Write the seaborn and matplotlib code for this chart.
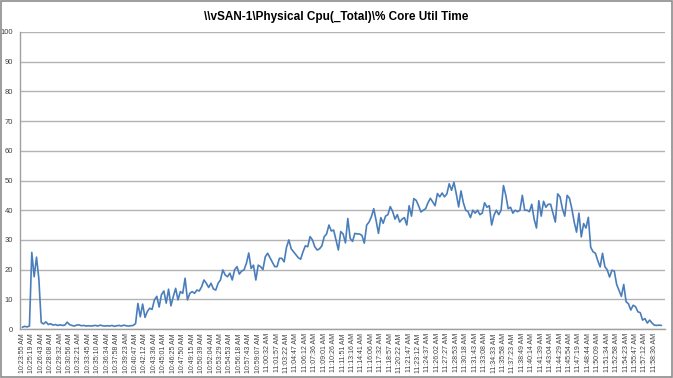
import numpy as np
import pandas as pd
import matplotlib
matplotlib.use('Agg')
import matplotlib.pyplot as plt
import seaborn as sns

title = '\\\\vSAN-1\\Physical Cpu(_Total)\\% Core Util Time'

# tick labels (every 4th sample)
time_labels = [
    '10:23:55 AM', '10:25:19 AM', '10:26:43 AM', '10:28:08 AM', '10:29:32 AM', '10:30:56 AM',
    '10:32:21 AM', '10:33:45 AM', '10:35:10 AM', '10:36:34 AM', '10:37:58 AM', '10:39:23 AM',
    '10:40:47 AM', '10:42:12 AM', '10:43:36 AM', '10:45:01 AM', '10:46:25 AM', '10:47:50 AM',
    '10:49:15 AM', '10:50:39 AM', '10:52:04 AM', '10:53:29 AM', '10:54:53 AM', '10:56:18 AM',
    '10:57:43 AM', '10:59:07 AM', '11:00:32 AM', '11:01:57 AM', '11:03:22 AM', '11:04:47 AM',
    '11:06:12 AM', '11:07:36 AM', '11:09:01 AM', '11:10:26 AM', '11:11:51 AM', '11:13:16 AM',
    '11:14:41 AM', '11:16:06 AM', '11:17:32 AM', '11:18:57 AM', '11:20:22 AM', '11:21:47 AM',
    '11:23:12 AM', '11:24:37 AM', '11:26:02 AM', '11:27:27 AM', '11:28:53 AM', '11:30:18 AM',
    '11:31:43 AM', '11:33:08 AM', '11:34:33 AM', '11:35:58 AM', '11:37:23 AM', '11:38:49 AM',
    '11:40:14 AM', '11:41:39 AM', '11:43:04 AM', '11:44:29 AM', '11:45:54 AM', '11:47:19 AM',
    '11:48:44 AM', '11:50:09 AM', '11:51:34 AM', '11:52:58 AM', '11:54:23 AM', '11:55:47 AM',
    '11:57:12 AM', '11:58:36 AM',
]

# % core util time, one value per sample
core_util = [
    0.6, 0.9, 0.7, 1.0, 25.8, 17.6, 24.2, 16.8, 2.2, 1.7,
    2.4, 1.5, 1.8, 1.3, 1.5, 1.2, 1.4, 1.2, 1.3, 2.3,
    1.5, 1.2, 1.0, 1.3, 1.4, 1.1, 1.2, 1.0, 1.1, 1.0,
    1.1, 1.2, 1.0, 1.3, 1.1, 1.0, 1.1, 1.0, 1.2, 0.9,
    1.1, 1.2, 1.0, 1.3, 1.1, 1.0, 1.1, 1.2, 1.8, 8.6,
    4.1, 8.4, 3.9, 5.9, 7.0, 6.6, 9.8, 11.0, 7.4, 11.6,
    12.8, 8.7, 13.4, 7.8, 10.9, 13.7, 9.8, 12.6, 12.0, 17.1,
    9.8, 12.0, 12.6, 12.0, 13.1, 12.8, 14.2, 16.5, 15.4, 14.0,
    15.4, 13.5, 13.1, 15.4, 16.5, 19.9, 18.2, 17.6, 18.8, 16.5,
    19.9, 21.0, 18.5, 19.5, 19.9, 22.1, 25.6, 20.4, 21.5, 16.5,
    21.5, 21.0, 20.0, 24.3, 25.5, 24.0, 22.5, 21.0, 21.0, 23.8,
    23.8, 22.6, 27.5, 30.0, 27.0, 26.0, 25.0, 24.0, 23.5, 26.0,
    28.0, 27.7, 31.1, 30.0, 27.7, 26.6, 27.0, 28.0, 31.1, 32.0,
    35.0, 33.0, 33.3, 30.0, 26.6, 32.8, 32.0, 29.0, 37.2, 30.5,
    29.5, 32.2, 32.0, 32.0, 31.5, 28.9, 35.0, 36.0, 37.8, 40.5,
    36.5, 32.2, 37.5, 35.6, 38.0, 38.5, 41.2, 39.6, 37.0, 38.5,
    36.0, 37.0, 37.5, 35.0, 41.5, 38.0, 43.9, 43.3, 41.5, 39.4,
    40.0, 40.5, 42.5, 44.0, 42.8, 41.5, 45.6, 44.5, 45.8, 44.5,
    45.5, 48.9, 46.7, 49.4, 45.5, 41.1, 46.5, 42.5, 40.0, 39.5,
    37.5, 40.0, 39.0, 40.0, 38.5, 39.0, 42.5, 41.0, 41.5, 35.0,
    38.3, 40.0, 38.5, 40.0, 48.3, 45.0, 40.5, 41.0, 39.0, 40.0,
    39.5, 40.0, 45.0, 40.0, 40.0, 39.5, 42.0, 37.0, 34.0, 43.2,
    38.0, 43.0, 41.0, 42.0, 42.0, 39.0, 36.0, 45.5, 44.5, 40.5,
    38.0, 45.0, 44.0, 40.5, 36.0, 32.6, 39.0, 31.0, 35.5, 34.0,
    37.6, 27.5, 26.0, 25.5, 23.0, 20.9, 25.5, 21.0, 19.9, 17.5,
    19.8, 19.5, 15.0, 13.0, 11.0, 15.0, 9.2, 8.5, 6.4, 8.0,
    7.5, 5.8, 5.5, 3.0, 3.5, 2.0, 3.0, 2.0, 1.3, 1.2,
    1.3, 1.2,
]

df = pd.DataFrame({'sample': np.arange(len(core_util)), 'util': core_util})

sns.set_style('white')
plt.rcParams['font.family'] = ['Liberation Sans', 'DejaVu Sans']

fig = plt.figure(figsize=(6.73, 3.78), dpi=100)
ax = fig.add_axes([20 / 673, 1 - 329 / 378, 645 / 673, 297 / 378])

sns.lineplot(data=df, x='sample', y='util', ax=ax, color='#4a7ebb', linewidth=1.2)

ax.set_ylim(0, 100)
ax.set_yticks(range(0, 101, 10))
ax.set_xlim(-1, len(core_util) + 0.5)
ax.set_xticks(np.arange(len(time_labels)) * 4)
ax.set_xticklabels(time_labels, rotation=90, fontsize=5, color='#404040')
ax.tick_params(axis='y', labelsize=5.5, labelcolor='#404040', length=3, color='#a0a0a0', pad=2)
ax.tick_params(axis='x', length=2, color='#a0a0a0', pad=1)
ax.yaxis.grid(True, color='#b3b3b3', linewidth=1.0)
ax.set_xlabel('')
ax.set_ylabel('')
for side in ['top', 'right']:
    ax.spines[side].set_visible(False)
for side in ['left', 'bottom']:
    ax.spines[side].set_color('#a0a0a0')
    ax.spines[side].set_linewidth(1.0)

fig.text(0.5, 1 - 17 / 378, title, ha='center', va='center', fontsize=8.5, fontweight='bold',
         color='black')
fig.patches.append(plt.Rectangle((0.001, 0.002), 0.997, 0.995, transform=fig.transFigure,
                                 fill=False, edgecolor='#8c8c8c', linewidth=1.2))

fig.savefig('out.png', dpi=100)
